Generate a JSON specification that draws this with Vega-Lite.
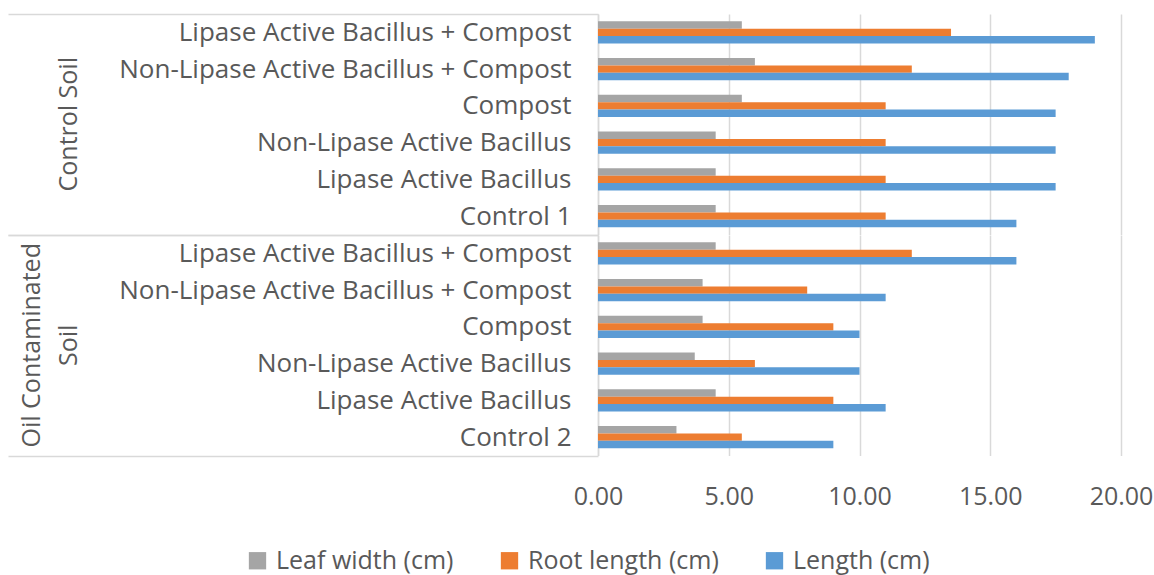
{
  "$schema": "https://vega.github.io/schema/vega-lite/v6.json",
  "background": "white",
  "padding": {"left": 7, "top": 1, "right": 4, "bottom": 4},
  "bounds": "flush",
  "data": {"values": [
    {"soil": "Control Soil", "treatment": "Lipase Active Bacillus + Compost", "order": 1, "measure": "Leaf width (cm)", "value": 5.5},
    {"soil": "Control Soil", "treatment": "Lipase Active Bacillus + Compost", "order": 1, "measure": "Root length (cm)", "value": 13.5},
    {"soil": "Control Soil", "treatment": "Lipase Active Bacillus + Compost", "order": 1, "measure": "Length (cm)", "value": 19},
    {"soil": "Control Soil", "treatment": "Non-Lipase Active Bacillus + Compost", "order": 2, "measure": "Leaf width (cm)", "value": 6},
    {"soil": "Control Soil", "treatment": "Non-Lipase Active Bacillus + Compost", "order": 2, "measure": "Root length (cm)", "value": 12},
    {"soil": "Control Soil", "treatment": "Non-Lipase Active Bacillus + Compost", "order": 2, "measure": "Length (cm)", "value": 18},
    {"soil": "Control Soil", "treatment": "Compost\u00a0", "order": 3, "measure": "Leaf width (cm)", "value": 5.5},
    {"soil": "Control Soil", "treatment": "Compost\u00a0", "order": 3, "measure": "Root length (cm)", "value": 11},
    {"soil": "Control Soil", "treatment": "Compost\u00a0", "order": 3, "measure": "Length (cm)", "value": 17.5},
    {"soil": "Control Soil", "treatment": "Non-Lipase Active Bacillus", "order": 4, "measure": "Leaf width (cm)", "value": 4.5},
    {"soil": "Control Soil", "treatment": "Non-Lipase Active Bacillus", "order": 4, "measure": "Root length (cm)", "value": 11},
    {"soil": "Control Soil", "treatment": "Non-Lipase Active Bacillus", "order": 4, "measure": "Length (cm)", "value": 17.5},
    {"soil": "Control Soil", "treatment": "Lipase Active Bacillus", "order": 5, "measure": "Leaf width (cm)", "value": 4.5},
    {"soil": "Control Soil", "treatment": "Lipase Active Bacillus", "order": 5, "measure": "Root length (cm)", "value": 11},
    {"soil": "Control Soil", "treatment": "Lipase Active Bacillus", "order": 5, "measure": "Length (cm)", "value": 17.5},
    {"soil": "Control Soil", "treatment": "Control 1", "order": 6, "measure": "Leaf width (cm)", "value": 4.5},
    {"soil": "Control Soil", "treatment": "Control 1", "order": 6, "measure": "Root length (cm)", "value": 11},
    {"soil": "Control Soil", "treatment": "Control 1", "order": 6, "measure": "Length (cm)", "value": 16},
    {"soil": "Oil Contaminated Soil", "treatment": "Lipase Active Bacillus + Compost", "order": 1, "measure": "Leaf width (cm)", "value": 4.5},
    {"soil": "Oil Contaminated Soil", "treatment": "Lipase Active Bacillus + Compost", "order": 1, "measure": "Root length (cm)", "value": 12},
    {"soil": "Oil Contaminated Soil", "treatment": "Lipase Active Bacillus + Compost", "order": 1, "measure": "Length (cm)", "value": 16},
    {"soil": "Oil Contaminated Soil", "treatment": "Non-Lipase Active Bacillus + Compost", "order": 2, "measure": "Leaf width (cm)", "value": 4},
    {"soil": "Oil Contaminated Soil", "treatment": "Non-Lipase Active Bacillus + Compost", "order": 2, "measure": "Root length (cm)", "value": 8},
    {"soil": "Oil Contaminated Soil", "treatment": "Non-Lipase Active Bacillus + Compost", "order": 2, "measure": "Length (cm)", "value": 11},
    {"soil": "Oil Contaminated Soil", "treatment": "Compost\u00a0", "order": 3, "measure": "Leaf width (cm)", "value": 4},
    {"soil": "Oil Contaminated Soil", "treatment": "Compost\u00a0", "order": 3, "measure": "Root length (cm)", "value": 9},
    {"soil": "Oil Contaminated Soil", "treatment": "Compost\u00a0", "order": 3, "measure": "Length (cm)", "value": 10},
    {"soil": "Oil Contaminated Soil", "treatment": "Non-Lipase Active Bacillus", "order": 4, "measure": "Leaf width (cm)", "value": 3.7},
    {"soil": "Oil Contaminated Soil", "treatment": "Non-Lipase Active Bacillus", "order": 4, "measure": "Root length (cm)", "value": 6},
    {"soil": "Oil Contaminated Soil", "treatment": "Non-Lipase Active Bacillus", "order": 4, "measure": "Length (cm)", "value": 10},
    {"soil": "Oil Contaminated Soil", "treatment": "Lipase Active Bacillus", "order": 5, "measure": "Leaf width (cm)", "value": 4.5},
    {"soil": "Oil Contaminated Soil", "treatment": "Lipase Active Bacillus", "order": 5, "measure": "Root length (cm)", "value": 9},
    {"soil": "Oil Contaminated Soil", "treatment": "Lipase Active Bacillus", "order": 5, "measure": "Length (cm)", "value": 11},
    {"soil": "Oil Contaminated Soil", "treatment": "Control 2", "order": 6, "measure": "Leaf width (cm)", "value": 3},
    {"soil": "Oil Contaminated Soil", "treatment": "Control 2", "order": 6, "measure": "Root length (cm)", "value": 5.5},
    {"soil": "Oil Contaminated Soil", "treatment": "Control 2", "order": 6, "measure": "Length (cm)", "value": 9}
  ]},
  "facet": {
    "row": {
      "field": "soil", "type": "nominal",
      "sort": ["Control Soil", "Oil Contaminated Soil"],
      "title": null,
      "header": {
        "labelOrient": "left",
        "labelAngle": -90,
        "labelFont": "Open Sans",
        "labelFontSize": 25,
        "labelColor": "#595959",
        "labelPadding": 504,
        "labelLineHeight": 37,
        "labelExpr": "datum.value == 'Oil Contaminated Soil' ? ['Oil Contaminated', 'Soil'] : datum.value"
      }
    }
  },
  "spacing": {"row": 0},
  "resolve": {"scale": {"y": "independent", "yOffset": "independent"}},
  "spec": {
    "width": 523,
    "height": 220.5,
    "mark": {"type": "bar"},
    "encoding": {
      "y": {
        "field": "treatment", "type": "nominal",
        "sort": {"field": "order", "op": "min"},
        "scale": {"paddingInner": 0, "paddingOuter": 0},
        "axis": {
          "title": null,
          "domain": true,
          "domainColor": "#D9D9D9",
          "domainWidth": 1.5,
          "labelFont": "Open Sans",
          "labelFontSize": 26,
          "labelColor": "#595959",
          "labelLimit": 600,
          "tickBand": "extent",
          "tickSize": 590,
          "tickWidth": 1.5,
          "tickColor": {"condition": {"test": "datum.index < 0 || datum.index >= 1", "value": "#D9D9D9"}, "value": "transparent"},
          "labelPadding": -563
        }
      },
      "yOffset": {
        "field": "measure", "type": "nominal",
        "sort": ["Leaf width (cm)", "Root length (cm)", "Length (cm)"],
        "scale": {"paddingInner": 0, "paddingOuter": 1.04}
      },
      "x": {
        "field": "value", "type": "quantitative",
        "scale": {"domain": [0, 20], "nice": false},
        "axis": {
          "title": null,
          "values": [0, 5, 10, 15, 20],
          "format": ".2f",
          "grid": true,
          "gridColor": "#D9D9D9",
          "gridWidth": 1.5,
          "domain": false,
          "ticks": false,
          "labelFlush": false,
          "labelFont": "Open Sans",
          "labelFontSize": 25,
          "labelColor": "#595959",
          "labelPadding": 28
        }
      },
      "color": {
        "field": "measure", "type": "nominal",
        "scale": {"domain": ["Leaf width (cm)", "Root length (cm)", "Length (cm)"], "range": ["#A5A5A5", "#ED7D31", "#5B9BD5"]},
        "legend": {
          "title": null,
          "orient": "none",
          "legendX": -353,
          "legendY": 534,
          "direction": "horizontal",
          "labelFont": "Open Sans",
          "labelFontSize": 25,
          "labelColor": "#595959",
          "labelLimit": 400,
          "symbolType": "square",
          "symbolSize": 300,
          "symbolStrokeWidth": 0,
          "symbolOpacity": 1,
          "labelOffset": 6,
          "columnPadding": 43
        }
      }
    }
  },
  "config": {"view": {"stroke": null}}
}
